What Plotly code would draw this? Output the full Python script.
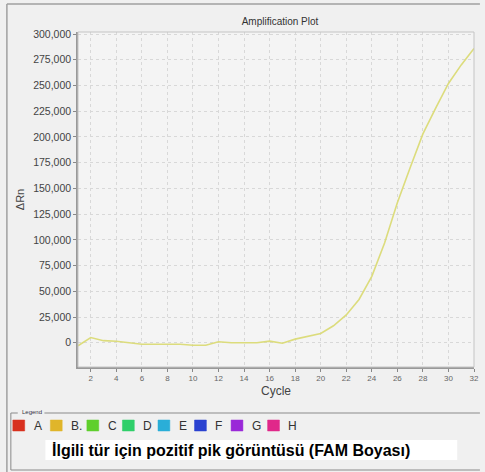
import plotly.graph_objects as go

cycles = list(range(1, 33))
delta_rn = [-3000, 5000, 2000, 1500, 0, -1500, -1500, -1500, -1500, -2500,
            -2500, 1000, 0, 0, 0, 1500, -500, 3500, 6000, 9000,
            16500, 27000, 42000, 64500, 97000, 136000, 170000, 203000, 228000, 252000,
            270000, 286000]

y_ticks = [0, 25000, 50000, 75000, 100000, 125000, 150000, 175000, 200000, 225000, 250000, 275000, 300000]
x_ticks = list(range(2, 33, 2))

legend_labels = ["A", "B.", "C", "D", "E", "F", "G", "H"]
legend_colors = ["#d8301e", "#e0b52a", "#5fcf2c", "#2fcf6a", "#2aaed8", "#2a42d0", "#9a28d8", "#e0288a"]

W, H = 485, 472
L, R, T, B = 78, 6, 32, 105

fig = go.Figure()
fig.add_trace(go.Scatter(x=cycles, y=delta_rn, mode="lines",
                         line=dict(color="#dcdc7c", width=1.6), showlegend=False))

fig.update_layout(
    width=W, height=H,
    margin=dict(l=L, r=R, t=T, b=B),
    paper_bgcolor="#f0f0f0", plot_bgcolor="#f4f4f4",
    font=dict(family="Liberation Sans, Arial", color="#444"),
    title=dict(text="Amplification Plot", x=280 / W, xanchor="center",
               y=1 - 21 / H, yanchor="middle", font=dict(size=10, color="#333")),
    xaxis=dict(range=[1, 32], tickvals=x_ticks, ticks="outside", ticklen=3,
               tickcolor="#888", tickfont=dict(size=8, color="#666"),
               showline=True, linecolor="#999", linewidth=1.5,
               showgrid=True, gridcolor="#d8d8d8", griddash="dot", zeroline=False,
               title=dict(text="Cycle", font=dict(size=12, color="#444"), standoff=4)),
    yaxis=dict(range=[-23600, 302000], tickvals=y_ticks, tickformat=",d", ticks="outside",
               ticklen=3, tickcolor="#888", tickfont=dict(size=10.5, color="#444"),
               showline=True, linecolor="#999", linewidth=1.5,
               showgrid=True, gridcolor="#d8d8d8", griddash="dot", zeroline=False,
               title=dict(text="ΔRn", font=dict(size=11, color="#444"), standoff=6)),
)


def add_px_rect(x0, y0, x1, y1, **kw):
    fig.add_shape(type="rect", xref="paper", yref="paper",
                  x0=(x0 - L) / (W - L - R), x1=(x1 - L) / (W - L - R),
                  y0=(H - B - y1) / (H - T - B), y1=(H - B - y0) / (H - T - B), **kw)


def add_px_line(x0, y0, x1, y1, **kw):
    fig.add_shape(type="line", xref="paper", yref="paper",
                  x0=(x0 - L) / (W - L - R), x1=(x1 - L) / (W - L - R),
                  y0=(H - B - y0) / (H - T - B), y1=(H - B - y1) / (H - T - B), **kw)


def add_px_text(x, y, text, **kw):
    fig.add_annotation(xref="paper", yref="paper",
                       x=(x - L) / (W - L - R), y=(H - B - y) / (H - T - B),
                       text=text, showarrow=False, **kw)


# plot border
add_px_rect(78, 32, 479, 367, line=dict(color="#c4c4c4", width=1))
# outer frame lines
add_px_line(6, 4, 485, 4, line=dict(color="#a0a0a0", width=1.5))
add_px_line(6, 4, 6, 472, line=dict(color="#a0a0a0", width=1.5))
# legend group box
add_px_line(10, 413, 17, 413, line=dict(color="#8a8a8a", width=1))
add_px_line(44, 413, 485, 413, line=dict(color="#8a8a8a", width=1))
add_px_line(10, 413, 10, 470, line=dict(color="#8a8a8a", width=1))
add_px_line(10, 470, 485, 470, line=dict(color="#8a8a8a", width=1))
add_px_text(19, 412, "Legend", xanchor="left", yanchor="middle",
            font=dict(size=6, color="#334"))

sq_x = [12, 50, 87, 123, 159, 196, 233, 270]
for i, (lab, col) in enumerate(zip(legend_labels, legend_colors)):
    x0 = sq_x[i]
    add_px_rect(x0, 420, x0 + 12, 431, fillcolor=col, line=dict(color=col, width=0.5))
    add_px_text(x0 + 19, 426, lab, xanchor="left", yanchor="middle",
                font=dict(size=12, color="#333"))

# white box with caption
add_px_rect(45, 440, 462, 460, fillcolor="white", line=dict(width=0))
add_px_text(50, 450, "<b>İlgili tür için pozitif pik görüntüsü (FAM Boyası)</b>",
            xanchor="left", yanchor="middle",
            font=dict(size=16, color="#000", family="Liberation Sans, Arial"))

fig.write_html("out.html", config={"displayModeBar": False},
               post_script="document.body.style.margin='0';")
